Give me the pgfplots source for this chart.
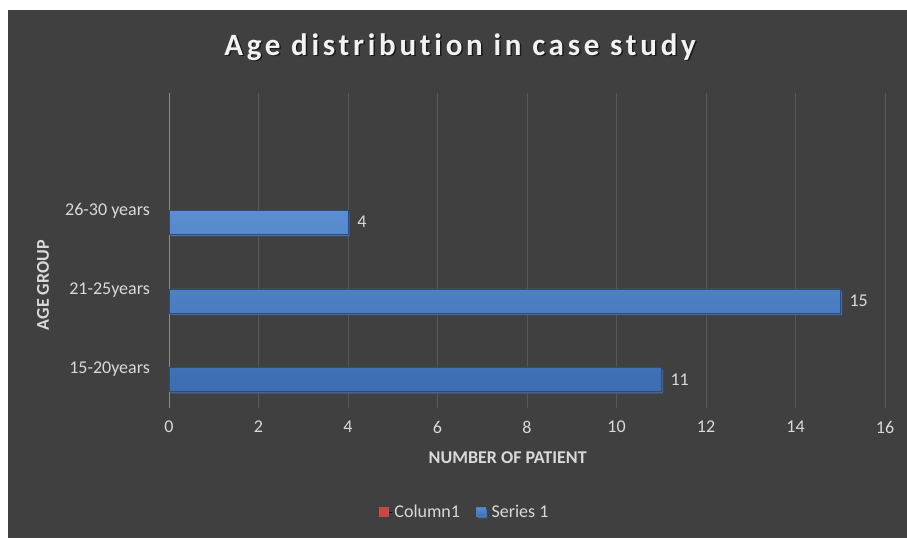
\documentclass[border=0pt]{standalone}
\usepackage{pgfplots}
\pgfplotsset{compat=1.18}
\usepackage{fontspec}
\setmainfont{Carlito}
\usetikzlibrary{shadows}
\definecolor{bg}{HTML}{404040}
\definecolor{txt}{HTML}{D9D9D9}
\definecolor{ttl}{HTML}{F2F2F2}
\definecolor{grd}{HTML}{585858}
\definecolor{axl}{HTML}{8C8C8C}
\definecolor{barA}{HTML}{5A8ED0}
\definecolor{barB}{HTML}{3D6DB1}
\definecolor{barM}{HTML}{4A7FC4}
\definecolor{redc}{HTML}{C9474A}
\begin{document}
\begin{tikzpicture}
\fill[white] (0,0) rectangle (907pt,538pt);
\fill[bg] (8pt,0) rectangle (907pt,528pt);
\node[text=black, opacity=0.6, font=\fontsize{31}{36}\selectfont\bfseries\addfontfeature{LetterSpace=12,Ligatures=NoCommon}] at (461.5pt,489.5pt) {Age distribution in case study};
\node[text=ttl, font=\fontsize{31}{36}\selectfont\bfseries\addfontfeature{LetterSpace=12,Ligatures=NoCommon}] at (460pt,491pt) {Age distribution in case study};
\begin{axis}[
  at={(169pt,130pt)}, anchor=south west, scale only axis,
  width=716pt, height=315pt,
  xmin=0, xmax=16, ymin=-0.5, ymax=3.5,
  xtick={2,4,...,16},
  extra x ticks={0},
  extra x tick style={grid style={color=axl, line width=1pt}},
  ytick={0,1,2},
  yticklabels={15-20years,21-25years,26-30 years},
  xmajorgrids,
  grid style={color=grd, line width=0.8pt},
  axis line style={draw=none},
  major tick length=0pt,
  /pgf/number format/assume math mode=true,
  tick label style={text=txt, font=\fontsize{18}{22}\selectfont},
  xticklabel style={inner sep=0pt, anchor=north, yshift=-13pt},
  yticklabel style={inner sep=0pt, anchor=east, xshift=-19pt},
  xlabel={NUMBER OF PATIENT},
  ylabel={AGE GROUP},
  label style={text=txt, font=\fontsize{18}{22}\selectfont\bfseries},
  xlabel style={at={(axis description cs:0.473,-0.159)}, anchor=center},
  ylabel style={at={(axis description cs:-0.176,0.39)}, anchor=center},
  legend style={at={(axis description cs:0.413,-0.33)}, anchor=center,
    draw=none, fill=none, text=txt, font=\fontsize{18}{22}\selectfont,
    legend columns=2, /tikz/every even column/.append style={column sep=14pt}},
  legend cell align=left,
]
\addlegendimage{legend image code/.code={\path (0pt,0pt) -- (13pt,0pt); \fill[redc] (0pt,-4.5pt) rectangle (9pt,4.5pt);}}
\addlegendentry{Column1}
\addplot[xbar, bar width=0.305, bar shift=-0.14,
  top color=barA, bottom color=barB, draw=barB!70!black, line width=0.5pt,
  drop shadow={shadow xshift=1.5pt, shadow yshift=-2pt, opacity=0.45},
  nodes near coords,
  every node near coord/.append style={text=txt, font=\fontsize{18}{22}\selectfont, anchor=west, inner sep=0pt, xshift=9pt, yshift=-11pt},
  legend image code/.code={\path (0pt,0pt) -- (13pt,0pt); \fill[barM] (0pt,-4.5pt) rectangle (9pt,4.5pt);}
] coordinates {(11,0) (15,1) (4,2)};
\addlegendentry{Series 1}
\end{axis}
\end{tikzpicture}
\end{document}
